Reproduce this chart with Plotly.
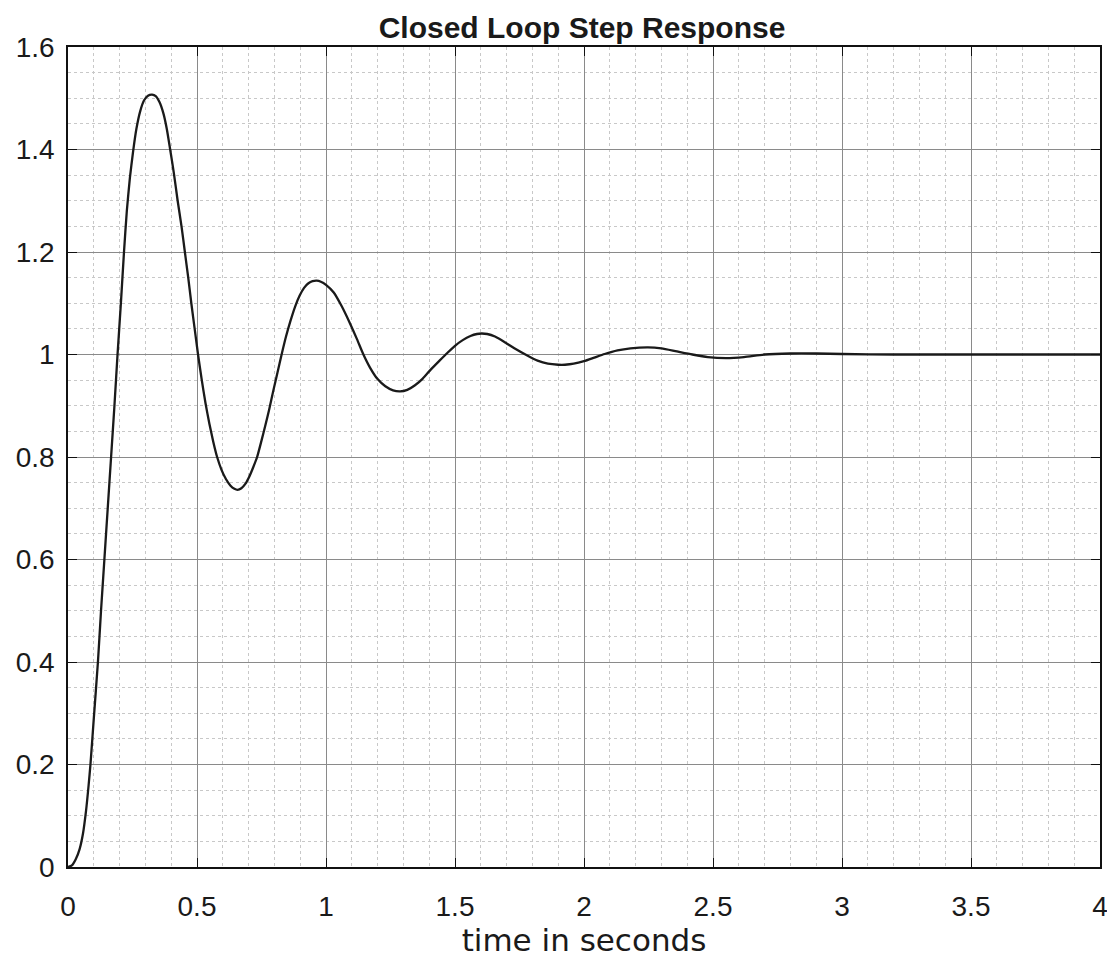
import plotly.graph_objects as go

# time (s) and closed-loop step response
t = [0.000, 0.015, 0.030, 0.045, 0.058, 0.070, 0.080, 0.087, 0.100, 0.116, 0.128, 0.141,
     0.154, 0.167, 0.180, 0.192, 0.205, 0.217, 0.228, 0.240, 0.252, 0.265, 0.280, 0.295,
     0.310, 0.326, 0.340, 0.355, 0.370, 0.383, 0.396, 0.410, 0.425, 0.440, 0.453, 0.466,
     0.478, 0.491, 0.504, 0.518, 0.533, 0.548, 0.563, 0.578, 0.595, 0.612, 0.630, 0.645,
     0.657, 0.672, 0.688, 0.703, 0.718, 0.733, 0.750, 0.765, 0.780, 0.796, 0.812, 0.828,
     0.845, 0.862, 0.880, 0.898, 0.915, 0.932, 0.948, 0.964, 0.980, 1.000, 1.030, 1.060,
     1.090, 1.120, 1.145, 1.170, 1.200, 1.230, 1.260, 1.287, 1.315, 1.345, 1.375, 1.405,
     1.440, 1.470, 1.500, 1.530, 1.560, 1.585, 1.603, 1.625, 1.655, 1.690, 1.730, 1.780,
     1.820, 1.860, 1.900, 1.926, 1.960, 2.000, 2.040, 2.080, 2.130, 2.180, 2.248, 2.300,
     2.360, 2.420, 2.480, 2.550, 2.620, 2.700, 2.800, 2.900, 3.000, 3.200, 3.500, 4.000]
y = [0.000, 0.003, 0.015, 0.035, 0.065, 0.110, 0.160, 0.200, 0.290, 0.400, 0.500, 0.600,
     0.700, 0.800, 0.900, 1.000, 1.100, 1.200, 1.280, 1.345, 1.395, 1.440, 1.475, 1.496,
     1.505, 1.507, 1.504, 1.492, 1.470, 1.440, 1.400, 1.355, 1.300, 1.250, 1.200, 1.150,
     1.100, 1.050, 1.000, 0.952, 0.905, 0.865, 0.830, 0.800, 0.775, 0.757, 0.744, 0.738,
     0.736, 0.739, 0.748, 0.762, 0.780, 0.800, 0.832, 0.862, 0.893, 0.930, 0.965, 1.000,
     1.035, 1.065, 1.093, 1.115, 1.130, 1.139, 1.143, 1.144, 1.142, 1.136, 1.121, 1.095,
     1.064, 1.030, 1.000, 0.975, 0.952, 0.938, 0.930, 0.928, 0.931, 0.940, 0.953, 0.970,
     0.988, 1.003, 1.017, 1.028, 1.036, 1.040, 1.041, 1.040, 1.035, 1.025, 1.012, 0.998,
     0.988, 0.982, 0.980, 0.980, 0.982, 0.987, 0.994, 1.001, 1.008, 1.012, 1.014, 1.012,
     1.006, 1.000, 0.995, 0.993, 0.995, 1.000, 1.002, 1.002, 1.001, 1.000, 1.000, 1.000]

x_ticks = [0, 0.5, 1, 1.5, 2, 2.5, 3, 3.5, 4]
x_tick_text = ["0", "0.5", "1", "1.5", "2", "2.5", "3", "3.5", "4"]
y_ticks = [0, 0.2, 0.4, 0.6, 0.8, 1.0, 1.2, 1.4, 1.6]
y_tick_text = ["0", "0.2", "0.4", "0.6", "0.8", "1", "1.2", "1.4", "1.6"]

fig = go.Figure()
fig.add_trace(go.Scatter(x=t, y=y, mode="lines",
                         line=dict(color="#1a1a1a", width=2.3, shape="spline", smoothing=0.6),
                         showlegend=False))

tick_family = "Liberation Sans, Arial, sans-serif"
axis_common = dict(
    showline=True, linecolor="#111", linewidth=1.6, mirror="ticks",
    ticks="inside", ticklen=9, tickcolor="#111", tickwidth=1.3,
    showgrid=True, gridcolor="#8a8a8a", gridwidth=1,
    zeroline=False, automargin=False,
    tickfont=dict(family=tick_family, size=28, color="#1a1a1a"),
)

fig.update_xaxes(range=[0, 4], tickvals=x_ticks, ticktext=x_tick_text, ticklabelstandoff=14,
                 minor=dict(dtick=0.1, showgrid=True, gridcolor="#c8c8c8", griddash="dot", gridwidth=1, ticks=""),
                 title=dict(text="time in seconds", standoff=8,
                            font=dict(family="DejaVu Sans, sans-serif", size=31, color="#1a1a1a")),
                 **axis_common)
fig.update_yaxes(range=[0, 1.6], tickvals=y_ticks, ticktext=y_tick_text, ticklabelstandoff=6,
                 minor=dict(dtick=0.05, showgrid=True, gridcolor="#c8c8c8", griddash="dot", gridwidth=1, ticks=""),
                 **axis_common)

# page body has an 8px margin, so the figure is sized/offset to compensate
fig.update_layout(
    width=1107, height=956,
    margin=dict(l=60, r=15, t=39, b=97),
    plot_bgcolor="white", paper_bgcolor="white",
    title=dict(text="<b>Closed Loop Step Response</b>", x=574 / 1107, xanchor="center",
               y=1 - 19 / 956, yanchor="middle", yref="container",
               font=dict(family="Liberation Sans, Arial, sans-serif", size=30, color="#1a1a1a")),
)

fig.write_html("out.html")
